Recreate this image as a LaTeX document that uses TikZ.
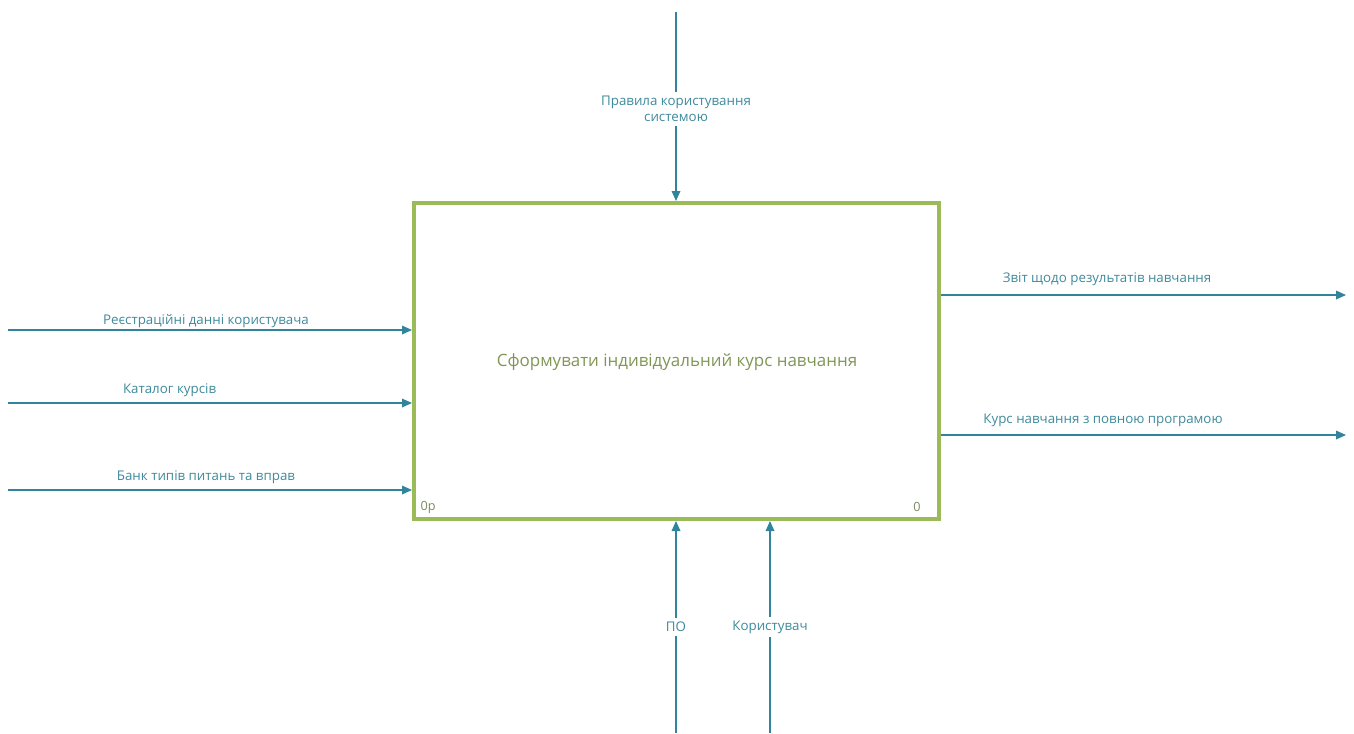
\documentclass[tikz,border=0pt]{standalone}
\usepackage{fontspec}
\setmainfont{Open Sans}
\usetikzlibrary{arrows.meta,calc}

\definecolor{boxgreen}{RGB}{155,187,89}
\definecolor{flowblue}{RGB}{49,132,155}
\definecolor{labelblue}{RGB}{62,138,156}
\definecolor{titlegreen}{RGB}{128,150,84}
\definecolor{idgrey}{RGB}{125,138,100}

\tikzset{
  procbox/.style={draw=boxgreen, line width=3pt, fill=white,
    minimum width=393.75pt, minimum height=237pt},
  flow/.style={draw=flowblue, line width=0.9pt,
    -{Triangle[length=7.5pt, width=6.5pt]}},
  flowlabel/.style={text=labelblue, font=\fontsize{10}{12}\selectfont,
    inner sep=1.5pt},
  gaplabel/.style={flowlabel, fill=white, align=center, inner sep=3pt}
}

\begin{document}
\begin{tikzpicture}[x=0.75pt, y=-0.75pt]
  \useasboundingbox (0, 0) rectangle (1354, 733);

  % the activity box
  \node[procbox] (box) at (676.5, 361) {};
  \node[text=titlegreen, font=\fontsize{12.7}{15}\selectfont] (title)
    at (677, 362) {Сформувати індивідуальний курс навчання};
  \node[text=idgrey, font=\fontsize{9.5}{11}\selectfont, anchor=west] (boxid)
    at (416, 507) {0р};
  \node[text=idgrey, font=\fontsize{9.5}{11}\selectfont] (boxnum)
    at (917, 507) {0};

  % control
  \coordinate (ctrl) at (676, 12);
  \draw[flow] (ctrl) -- (ctrl |- box.north);
  \node[gaplabel] (ctrllabel) at (676, 109)
    {Правила користування\\системою};

  % inputs
  \coordinate (inreg) at (8, 330);
  \coordinate (incat) at (8, 403);
  \coordinate (inbank) at (8, 490);
  \draw[flow] (inreg) -- node[flowlabel, above, pos=0.49] (reglabel)
    {Реєстраційні данні користувача} (inreg -| box.west);
  \draw[flow] (incat) -- node[flowlabel, above=2.5pt, pos=0.4] (catlabel)
    {Каталог курсів} (incat -| box.west);
  \draw[flow] (inbank) -- node[flowlabel, above=2.5pt, pos=0.49] (banklabel)
    {Банк типів питань та вправ} (inbank -| box.west);

  % outputs
  \coordinate (outrep) at (1346, 295);
  \coordinate (outcourse) at (1346, 435);
  \draw[flow] (outrep -| box.east) -- node[flowlabel, above=5pt, pos=0.41] (replabel)
    {Звіт щодо результатів навчання} (outrep);
  \draw[flow] (outcourse -| box.east) -- node[flowlabel, above=4.5pt, pos=0.4] (courselabel)
    {Курс навчання з повною програмою} (outcourse);

  % mechanisms
  \coordinate (mechsoft) at (676, 733);
  \coordinate (mechuser) at (770, 733);
  \draw[flow] (mechsoft) -- (mechsoft |- box.south);
  \draw[flow] (mechuser) -- (mechuser |- box.south);
  \node[gaplabel] (softlabel) at (676, 627) {ПО};
  \node[gaplabel] (userlabel) at (770, 627) {Користувач};
\end{tikzpicture}
\end{document}
